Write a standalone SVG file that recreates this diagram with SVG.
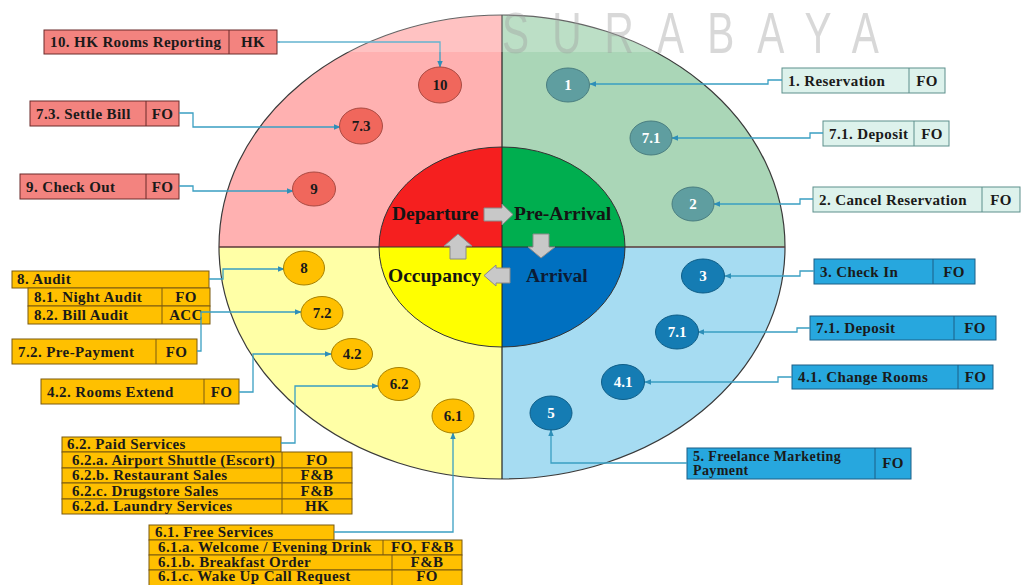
<svg xmlns="http://www.w3.org/2000/svg" width="1022" height="585" viewBox="0 0 1022 585">
<defs>
<style>
.t{font-family:"Liberation Serif","Times New Roman",serif;font-weight:bold;font-size:15px;letter-spacing:0.4px;fill:#1a1a1a}
.c{text-anchor:middle}
.big{font-family:"Liberation Serif","Times New Roman",serif;font-weight:bold;font-size:19.5px;fill:#141414}
.nt{font-family:"Liberation Serif","Times New Roman",serif;font-weight:bold;font-size:15px;text-anchor:middle}
.pk{fill:#F3837F;stroke:#6b2a2a;stroke-width:1}
.gr{fill:#DDF2EC;stroke:#5d8f8c;stroke-width:1}
.bl{fill:#27A7DE;stroke:#1c5f86;stroke-width:1}
.yl{fill:#FFC000;stroke:#7a5a10;stroke-width:1}
.nr{fill:#F0675C;stroke:#a94a42;stroke-width:1}
.ng{fill:#5F9EA0;stroke:#4a7e80;stroke-width:1}
.ny{fill:#FFC000;stroke:#a68000;stroke-width:1}
.nb{fill:#157CB3;stroke:#0f5e88;stroke-width:1}
.ba{fill:#C8C8C8;stroke:#8a8a8a;stroke-width:1}
.conn path{fill:none;stroke:#3A9FC2;stroke-width:1.3}
</style>
<marker id="arr" viewBox="0 0 10 10" refX="9" refY="5" markerWidth="7" markerHeight="7" markerUnits="userSpaceOnUse" orient="auto">
<path d="M0,1 L10,5 L0,9 z" fill="#2E8FB8"/>
</marker>
</defs>
<rect width="1022" height="585" fill="#ffffff"/>

<g id="outer-ring">
<path d="M502,247 L219,247 A283,232 0 0 1 502,15 Z" fill="#FFB1B1"/>
<path d="M502,247 L502,15 A283,232 0 0 1 785,247 Z" fill="#AAD6B7"/>
<path d="M502,247 L785,247 A283,232 0 0 1 502,479 Z" fill="#A6DCF2"/>
<path d="M502,247 L502,479 A283,232 0 0 1 219,247 Z" fill="#FFFFA6"/>
<ellipse cx="502" cy="247" rx="283" ry="232" fill="none" stroke="#3a3a3a" stroke-width="1.2"/>
<line x1="502" y1="15" x2="502" y2="479" stroke="#222" stroke-width="1.2"/>
<line x1="219" y1="247" x2="785" y2="247" stroke="#5a3a3a" stroke-width="1.5"/>
</g>

<g id="inner-cycle">
<path d="M502,247 L379,247 A123,100 0 0 1 502,147 Z" fill="#F51F1F"/>
<path d="M502,247 L502,147 A123,100 0 0 1 625,247 Z" fill="#00AE4F"/>
<path d="M502,247 L625,247 A123,100 0 0 1 502,347 Z" fill="#0070C0"/>
<path d="M502,247 L502,347 A123,100 0 0 1 379,247 Z" fill="#FFFF00"/>
<ellipse cx="502" cy="247" rx="123" ry="100" fill="none" stroke="#333" stroke-width="1"/>
<line x1="502" y1="147" x2="502" y2="347" stroke="#222" stroke-width="1"/>
<line x1="379" y1="247" x2="625" y2="247" stroke="#333" stroke-width="1"/>
<polygon class="ba" points="484,208 502,208 502,204 513,214.5 502,225 502,221 484,221"/>
<polygon class="ba" points="533,234 549,234 549,247 555,247 541,258 528,247 533,247"/>
<polygon class="ba" points="510,268 496,268 496,265 484,275.5 496,286 496,283 510,283"/>
<polygon class="ba" points="450,259 466,259 466,246 472,246 458,234 444,246 450,246"/>
<text class="big" x="392" y="220">Departure</text>
<text class="big" x="514" y="220">Pre-Arrival</text>
<text class="big" x="388" y="282">Occupancy</text>
<text class="big" x="526" y="282" style="fill:#0c1c36">Arrival</text>
</g>

<g id="box-10">
<rect class="pk" x="44" y="30" width="233" height="24"/>
<line x1="229" y1="30" x2="229" y2="54" stroke="#6b2a2a"/>
<text class="t" x="50" y="47">10. HK Rooms Reporting</text>
<text class="t c" x="253" y="47">HK</text>
</g>
<g id="box-7-3">
<rect class="pk" x="30" y="101" width="149" height="25"/>
<line x1="146" y1="101" x2="146" y2="126" stroke="#6b2a2a"/>
<text class="t" x="36" y="119">7.3. Settle Bill</text>
<text class="t c" x="162.5" y="119">FO</text>
</g>
<g id="box-9">
<rect class="pk" x="20" y="174" width="159" height="25"/>
<line x1="146" y1="174" x2="146" y2="199" stroke="#6b2a2a"/>
<text class="t" x="26" y="192">9. Check Out</text>
<text class="t c" x="162.5" y="192">FO</text>
</g>

<g id="box-1">
<rect class="gr" x="782" y="68" width="163" height="25"/>
<line x1="909" y1="68" x2="909" y2="93" stroke="#5d8f8c"/>
<text class="t" x="788" y="86">1. Reservation</text>
<text class="t c" x="927" y="86">FO</text>
</g>
<g id="box-7-1-deposit-pre">
<rect class="gr" x="823" y="121" width="126" height="25"/>
<line x1="914" y1="121" x2="914" y2="146" stroke="#5d8f8c"/>
<text class="t" x="829" y="139">7.1. Deposit</text>
<text class="t c" x="932" y="139">FO</text>
</g>
<g id="box-2">
<rect class="gr" x="813" y="187" width="207" height="25"/>
<line x1="982" y1="187" x2="982" y2="212" stroke="#5d8f8c"/>
<text class="t" x="819" y="205">2. Cancel Reservation</text>
<text class="t c" x="1001" y="205">FO</text>
</g>

<g id="box-3">
<rect class="bl" x="814" y="259" width="161" height="25"/>
<line x1="933" y1="259" x2="933" y2="284" stroke="#1c5f86"/>
<text class="t" x="820" y="277">3. Check In</text>
<text class="t c" x="954" y="277">FO</text>
</g>
<g id="box-7-1-deposit-arr">
<rect class="bl" x="810" y="316" width="186" height="24"/>
<line x1="954" y1="316" x2="954" y2="340" stroke="#1c5f86"/>
<text class="t" x="816" y="333">7.1. Deposit</text>
<text class="t c" x="975" y="333">FO</text>
</g>
<g id="box-4-1">
<rect class="bl" x="792" y="365" width="201" height="24"/>
<line x1="958" y1="365" x2="958" y2="389" stroke="#1c5f86"/>
<text class="t" x="798" y="382">4.1. Change Rooms</text>
<text class="t c" x="975.5" y="382">FO</text>
</g>
<g id="box-5">
<rect class="bl" x="687" y="448" width="224" height="31"/>
<line x1="875" y1="448" x2="875" y2="479" stroke="#1c5f86"/>
<text class="t" x="693" y="461" style="font-size:14px">5. Freelance Marketing</text>
<text class="t" x="693" y="475" style="font-size:14px">Payment</text>
<text class="t c" x="893" y="468">FO</text>
</g>

<g id="box-8">
<rect class="yl" x="12" y="271" width="197" height="17"/>
<text class="t" x="17" y="284">8. Audit</text>
<rect class="yl" x="28" y="288" width="182" height="18"/>
<rect class="yl" x="28" y="306" width="182" height="18"/>
<line x1="162" y1="288" x2="162" y2="324" stroke="#7a5a10"/>
<text class="t" x="34" y="302">8.1. Night Audit</text>
<text class="t c" x="186" y="302">FO</text>
<text class="t" x="34" y="320">8.2. Bill Audit</text>
<text class="t c" x="186" y="320">ACC</text>
</g>
<g id="box-7-2">
<rect class="yl" x="12" y="339" width="185" height="25"/>
<line x1="156" y1="339" x2="156" y2="364" stroke="#7a5a10"/>
<text class="t" x="18" y="357">7.2. Pre-Payment</text>
<text class="t c" x="176.5" y="357">FO</text>
</g>
<g id="box-4-2">
<rect class="yl" x="41" y="379" width="198" height="25"/>
<line x1="204" y1="379" x2="204" y2="404" stroke="#7a5a10"/>
<text class="t" x="47" y="397">4.2. Rooms Extend</text>
<text class="t c" x="221.5" y="397">FO</text>
</g>
<g id="box-6-2">
<rect class="yl" x="62" y="437" width="219" height="15"/>
<text class="t" x="67" y="449">6.2. Paid Services</text>
<rect class="yl" x="62" y="452" width="290" height="16"/>
<rect class="yl" x="62" y="468" width="290" height="15"/>
<rect class="yl" x="62" y="483" width="290" height="16"/>
<rect class="yl" x="62" y="499" width="290" height="15"/>
<line x1="282" y1="452" x2="282" y2="514" stroke="#7a5a10"/>
<text class="t" x="72" y="465">6.2.a. Airport Shuttle (Escort)</text>
<text class="t c" x="317" y="465">FO</text>
<text class="t" x="72" y="480">6.2.b. Restaurant Sales</text>
<text class="t c" x="317" y="480">F&amp;B</text>
<text class="t" x="72" y="496">6.2.c. Drugstore Sales</text>
<text class="t c" x="317" y="496">F&amp;B</text>
<text class="t" x="72" y="511">6.2.d. Laundry Services</text>
<text class="t c" x="317" y="511">HK</text>
</g>
<g id="box-6-1">
<rect class="yl" x="149" y="525" width="185" height="15"/>
<text class="t" x="155" y="537">6.1. Free Services</text>
<rect class="yl" x="149" y="540" width="313" height="15"/>
<rect class="yl" x="149" y="555" width="313" height="15"/>
<rect class="yl" x="149" y="570" width="313" height="16"/>
<line x1="383" y1="540" x2="383" y2="555" stroke="#7a5a10"/>
<line x1="392" y1="555" x2="392" y2="586" stroke="#7a5a10"/>
<text class="t" x="158" y="552">6.1.a. Welcome / Evening Drink</text>
<text class="t c" x="422.5" y="552">FO, F&amp;B</text>
<text class="t" x="158" y="567">6.1.b. Breakfast Order</text>
<text class="t c" x="427" y="567">F&amp;B</text>
<text class="t" x="158" y="581">6.1.c. Wake Up Call Request</text>
<text class="t c" x="427" y="581">FO</text>
</g>

<g id="connectors" class="conn">
<path d="M277,42 H440 V67" marker-end="url(#arr)"/>
<path d="M179,113 H193 V127 H340" marker-end="url(#arr)"/>
<path d="M179,186 H193 V191 H293" marker-end="url(#arr)"/>
<path d="M782,80 H768 V84 H590" marker-end="url(#arr)"/>
<path d="M823,133 H810 V138 H672" marker-end="url(#arr)"/>
<path d="M813,199 H800 V204 H714" marker-end="url(#arr)"/>
<path d="M814,271 H800 V276 H725" marker-end="url(#arr)"/>
<path d="M810,328 H797 V332 H698" marker-end="url(#arr)"/>
<path d="M792,377 H778 V382 H645" marker-end="url(#arr)"/>
<path d="M687,463 H551 V430" marker-end="url(#arr)"/>
<path d="M209,279 H223 V269 H284" marker-end="url(#arr)"/>
<path d="M197,351 H201 V312 H301" marker-end="url(#arr)"/>
<path d="M239,392 H253 V354 H331" marker-end="url(#arr)"/>
<path d="M281,443 H295 V386 H378" marker-end="url(#arr)"/>
<path d="M334,532 H453 V433" marker-end="url(#arr)"/>
</g>

<g id="node-10"><ellipse class="nr" cx="440" cy="85" rx="21.5" ry="18"/><text class="nt" x="440" y="90" fill="#1a1a1a">10</text></g>
<g id="node-7-3"><ellipse class="nr" cx="361" cy="126" rx="21.5" ry="18"/><text class="nt" x="361" y="131" fill="#1a1a1a">7.3</text></g>
<g id="node-9"><ellipse class="nr" cx="314" cy="189" rx="21.5" ry="17"/><text class="nt" x="314" y="194" fill="#1a1a1a">9</text></g>
<g id="node-1"><ellipse class="ng" cx="568" cy="85" rx="21.5" ry="17"/><text class="nt" x="568" y="90" fill="#ffffff">1</text></g>
<g id="node-7-1-pre"><ellipse class="ng" cx="651" cy="138" rx="21" ry="17"/><text class="nt" x="651" y="143" fill="#ffffff">7.1</text></g>
<g id="node-2"><ellipse class="ng" cx="693" cy="204" rx="21" ry="17"/><text class="nt" x="693" y="209" fill="#ffffff">2</text></g>
<g id="node-3"><ellipse class="nb" cx="703" cy="276" rx="21.5" ry="17"/><text class="nt" x="703" y="281" fill="#ffffff">3</text></g>
<g id="node-7-1-arr"><ellipse class="nb" cx="677" cy="332" rx="21.5" ry="17"/><text class="nt" x="677" y="337" fill="#ffffff">7.1</text></g>
<g id="node-4-1"><ellipse class="nb" cx="623" cy="382" rx="21.5" ry="17.5"/><text class="nt" x="623" y="387" fill="#ffffff">4.1</text></g>
<g id="node-5"><ellipse class="nb" cx="551" cy="413" rx="21" ry="17"/><text class="nt" x="551" y="418" fill="#ffffff">5</text></g>
<g id="node-8"><ellipse class="ny" cx="304" cy="268" rx="20.5" ry="17"/><text class="nt" x="304" y="273" fill="#1a1a1a">8</text></g>
<g id="node-7-2"><ellipse class="ny" cx="322" cy="313" rx="21" ry="16.5"/><text class="nt" x="322" y="318" fill="#1a1a1a">7.2</text></g>
<g id="node-4-2"><ellipse class="ny" cx="352" cy="354" rx="20.5" ry="15.5"/><text class="nt" x="352" y="359" fill="#1a1a1a">4.2</text></g>
<g id="node-6-2"><ellipse class="ny" cx="399" cy="384" rx="21" ry="16.5"/><text class="nt" x="399" y="389" fill="#1a1a1a">6.2</text></g>
<g id="node-6-1"><ellipse class="ny" cx="453" cy="416" rx="21" ry="17"/><text class="nt" x="453" y="421" fill="#1a1a1a">6.1</text></g>

<g id="watermark">
<rect x="280" y="0" width="742" height="52" fill="#ffffff" opacity="0.22"/>
<text transform="translate(502,53) scale(0.7,1)" x="0" y="0" font-family="Liberation Sans, Arial, sans-serif" font-size="58" letter-spacing="33" fill="#a0a0a0" opacity="0.4">SURABAYA</text>
</g>
</svg>
